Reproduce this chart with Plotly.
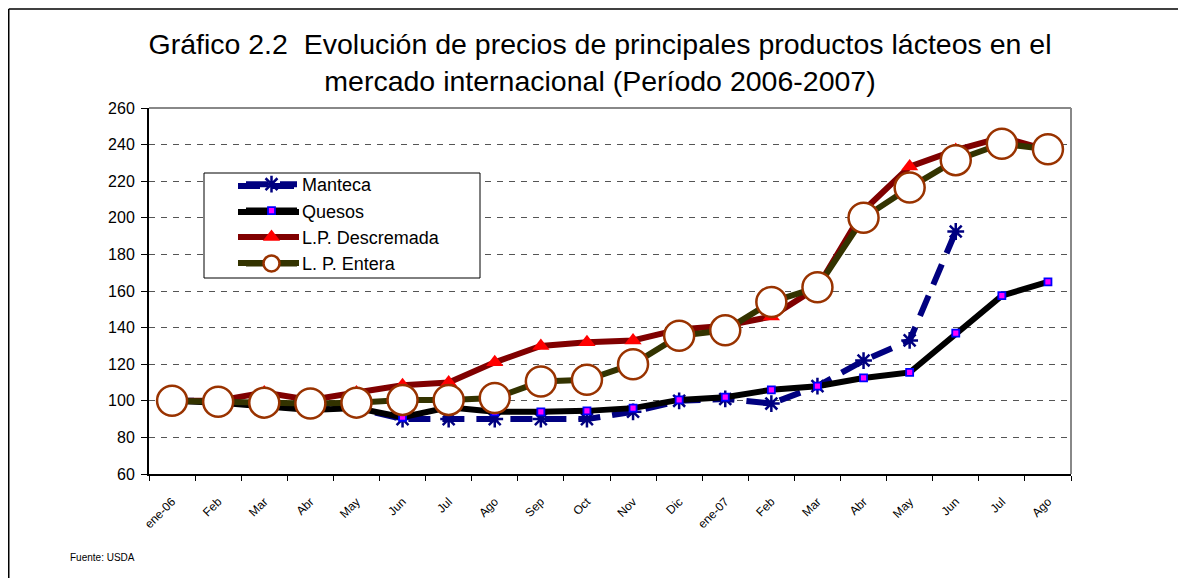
import plotly.graph_objects as go

months = ["ene-06", "Feb", "Mar", "Abr", "May", "Jun", "Jul", "Ago", "Sep", "Oct",
          "Nov", "Dic", "ene-07", "Feb", "Mar", "Abr", "May", "Jun", "Jul", "Ago"]
x_idx = list(range(len(months)))

manteca = [100, 100, 97, 96, 96, 90, 90, 90, 90, 90, 94, 100, 101, 98.5, 108, 122, 133, 192.5]
quesos = [100, 99, 97, 95, 96, 91, 96.5, 94, 94, 94.5, 96, 100.5, 102, 106, 108, 112.5, 115.5, 137, 157.5, 165]
descremada = [100, 100, 104.5, 100.5, 104.5, 108.5, 110, 121, 130, 132, 133, 139, 141, 146, 162, 204, 228, 237, 244, 237]
entera = [100, 99.5, 99, 98.5, 99, 100.5, 100.5, 101.5, 110.5, 111.5, 120, 135.5, 138.5, 154, 162, 200, 216.5, 231.5, 240.5, 237.5]

y_ticks = [60, 80, 100, 120, 140, 160, 180, 200, 220, 240, 260]

FONT = "Liberation Sans, Arial, sans-serif"

# plot area in figure pixels (page body adds an 8px offset)
L, R, T, B = 141, 1063, 100, 466
W, H = R - L, B - T


def px(x):
    return (x - L) / W


def py(y):
    return (B - y) / H


series_styles = [
    dict(color="#000080", dash="22px,12px"),
    dict(color="#000000", dash="solid"),
    dict(color="#800000", dash="solid"),
    dict(color="#333300", dash="solid"),
]

fig = go.Figure()

fig.add_trace(go.Scatter(
    x=x_idx[:len(manteca)], y=manteca, name="Manteca", mode="lines+markers",
    line=dict(color="#000080", width=6, dash="22px,12px"),
    marker=dict(symbol="asterisk-open", size=14, line=dict(color="#000080", width=2.5)),
))
fig.add_trace(go.Scatter(
    x=x_idx, y=quesos, name="Quesos", mode="lines+markers",
    line=dict(color="#000000", width=6),
    marker=dict(symbol="square", size=7, color="#FF00FF", line=dict(color="#0000FF", width=1.8)),
))
fig.add_trace(go.Scatter(
    x=x_idx, y=descremada, name="L.P. Descremada", mode="lines+markers",
    line=dict(color="#800000", width=6),
    marker=dict(symbol="triangle-up", size=15, color="#FF0000", line=dict(width=0)),
))
fig.add_trace(go.Scatter(
    x=x_idx, y=entera, name="L. P. Entera", mode="lines+markers",
    line=dict(color="#333300", width=6),
    marker=dict(symbol="circle", size=30, color="#FFFFFF", line=dict(color="#993300", width=2.5)),
))

shapes = [
    dict(type="line", xref="paper", yref="paper", x0=0, x1=1, y0=1, y1=1,
         line=dict(color="#888888", width=2)),
    dict(type="line", xref="paper", yref="paper", x0=1, x1=1, y0=0, y1=1,
         line=dict(color="#888888", width=2)),
    dict(type="line", xref="paper", yref="paper", x0=px(0.75), x1=1.3,
         y0=py(1), y1=py(1), line=dict(color="black", width=1.5)),
    dict(type="line", xref="paper", yref="paper", x0=px(0.75), x1=px(0.75),
         y0=py(1), y1=-0.5, line=dict(color="black", width=1.5)),
    # legend box
    dict(type="rect", xref="paper", yref="paper", layer="above",
         x0=px(196), x1=px(472), y0=py(270), y1=py(165),
         fillcolor="white", line=dict(color="black", width=1)),
]
item_y = [178, 204, 229, 255]
for st, yy in zip(series_styles, item_y):
    shapes.append(dict(type="line", xref="paper", yref="paper", layer="above",
                       x0=px(230), x1=px(291), y0=py(yy), y1=py(yy),
                       line=dict(color=st["color"], width=6, dash=st["dash"])))

fig.update_layout(
    width=1186, height=578,
    margin=dict(l=L, r=1186 - R, t=T, b=578 - B),
    paper_bgcolor="white", plot_bgcolor="white",
    font=dict(family=FONT, color="black"),
    title=dict(
        text="Gráfico 2.2  Evolución de precios de principales productos lácteos en el<br>mercado internacional (Período 2006-2007)",
        x=592 / 1186, xanchor="center", xref="container",
        y=1 - 46 / 578, yanchor="top", yref="container",
        font=dict(family=FONT, size=28.5, color="black"),
    ),
    showlegend=True,
    legend=dict(
        x=px(233), y=py(158), xanchor="left", yanchor="top",
        bgcolor="rgba(0,0,0,0)", borderwidth=0,
        font=dict(family=FONT, size=18, color="black"),
        itemwidth=51, traceorder="normal",
    ),
    xaxis=dict(
        range=[-0.5, 19.5], tickmode="array", tickvals=x_idx, ticktext=months,
        tickangle=-45, tickfont=dict(size=12, color="black"),
        ticks="", ticklabelstandoff=14, showgrid=False, zeroline=False,
        showline=True, linecolor="black", linewidth=2,
        minor=dict(tickmode="linear", tick0=-0.5, dtick=1, ticks="outside",
                   ticklen=5, tickcolor="black", tickwidth=1, showgrid=False),
    ),
    yaxis=dict(
        range=[60, 260], tickmode="array", tickvals=y_ticks,
        tickfont=dict(size=16, color="black"),
        ticks="outside", ticklen=6, tickcolor="black", ticklabelstandoff=3,
        showgrid=True, gridcolor="#555555", griddash="6px,6px", gridwidth=1,
        zeroline=False, showline=True, linecolor="black", linewidth=2,
    ),
    shapes=shapes,
    annotations=[
        dict(text="Fuente: USDA", xref="paper", yref="paper",
             x=px(60), y=py(549), xanchor="left", yanchor="middle",
             showarrow=False, font=dict(family=FONT, size=10, color="black")),
    ],
)

fig.write_html("out.html")
